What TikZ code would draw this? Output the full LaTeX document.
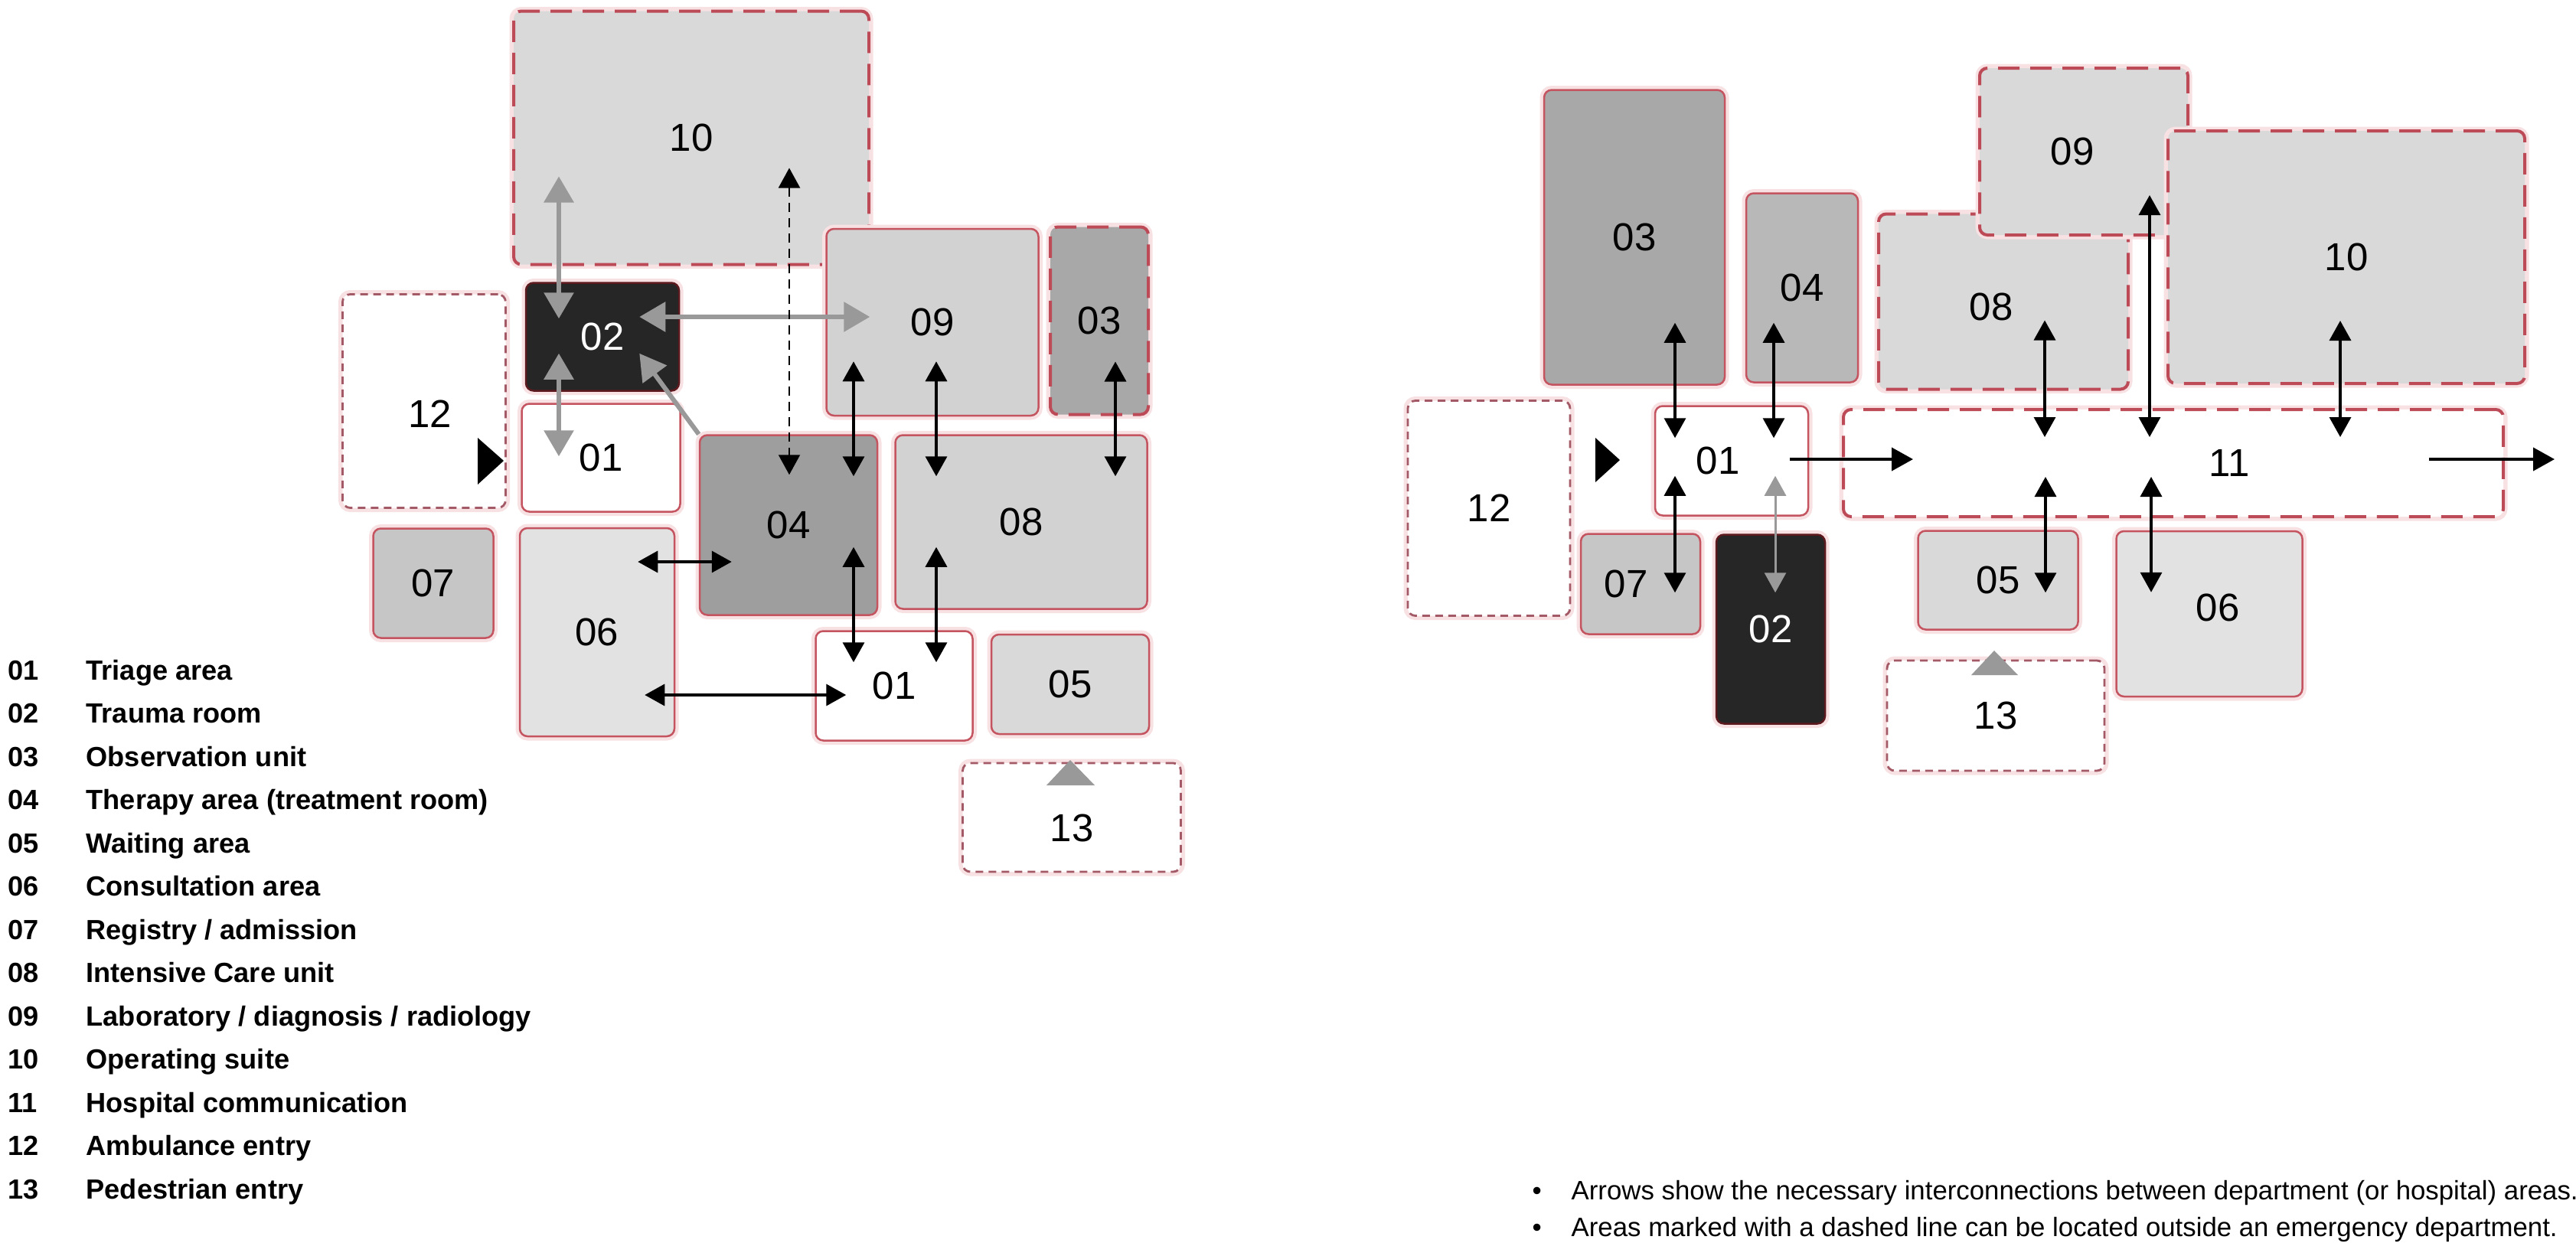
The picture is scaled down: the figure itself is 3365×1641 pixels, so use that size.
\documentclass[tikz,border=0pt]{standalone}
\usepackage{fontspec}
\setmainfont{Liberation Sans}
\usetikzlibrary{positioning,arrows.meta,calc}
\definecolor{cedge}{HTML}{C4545F}
\definecolor{cdash}{HTML}{BC4A57}
\definecolor{centry}{HTML}{A35A66}
\definecolor{cglow}{HTML}{F7E1E3}
\definecolor{cdark}{HTML}{262626}
\definecolor{cdarkedge}{HTML}{5C1A1F}
\definecolor{clight}{HTML}{D9D9D9}
\definecolor{cpale}{HTML}{D2D2D2}
\definecolor{cfaint}{HTML}{E2E2E2}
\definecolor{csoft}{HTML}{C6C6C6}
\definecolor{cmid}{HTML}{A8A8A8}
\definecolor{cmidb}{HTML}{B8B8B8}
\definecolor{cdeep}{HTML}{9E9E9E}
\definecolor{cgrey}{HTML}{999999}
\tikzset{
  tag/.style={font=\fontsize{14.5}{16}\selectfont},
  room/.style={tag,draw=cedge,line width=.25mm,rounded corners=1mm,fill=white,inner sep=0pt,
               preaction={draw=cglow,line width=1.1mm,solid}},
  zone/.style={room,draw=cdash,line width=.4mm,dash pattern=on 2.8mm off 1.4mm},
  gate/.style={room,draw=centry,line width=.28mm,dash pattern=on 1mm off .7mm},
  core/.style={room,draw=cdarkedge,fill=cdark,text=white},
  off/.style args={#1/#2/#3}{label={[tag,xshift=#1,yshift=#2]center:#3}},
  link/.style={<->,>={Triangle[length=2.6mm,width=2.8mm]},line width=.35mm,draw=black},
  glink/.style={<->,>={Triangle[length=3.4mm,width=3.8mm]},line width=.6mm,draw=cgrey},
  gone/.style={glink,->},
  gthin/.style={link,draw=cgrey,line width=.3mm},
  dlink/.style={link,line width=.2mm,dash pattern=on 1.2mm off .8mm},
  flow/.style={->,>={Triangle[length=2.8mm,width=3mm]},line width=.4mm,draw=black},
  key/.style={anchor=base west,inner sep=0pt,font=\bfseries\fontsize{10.3}{12}\selectfont},
  note/.style={anchor=base west,inner sep=0pt,font=\fontsize{9.9}{12}\selectfont}
}

\begin{document}
\begin{tikzpicture}[x=0.1mm,y=-0.1mm]
\useasboundingbox (0,0) rectangle (3365,1641);

% left layout
\node[zone,fill=clight,minimum width=46.4mm,minimum height=33.1mm] (l10) at (903,180) {10};
\node[room,fill=cpale,minimum width=27.7mm,minimum height=24.4mm] (l09) at (1218,421) {09};
\node[zone,fill=cmid,minimum width=12.8mm,minimum height=24.5mm] (l03) at (1436,419) {03};
\node[gate,minimum width=21.3mm,minimum height=27.9mm,off=.8mm/-1.7mm/12] (l12) at (554,524) {};
\node[core,minimum width=20mm,minimum height=14.1mm] (l02) at (787,440) {02};
\node[room,minimum width=20.7mm,minimum height=14.1mm] (l01a) at (785,598) {01};
\node[room,fill=cdeep,minimum width=23.2mm,minimum height=23.5mm] (l04) at (1030,686) {04};
\node[room,fill=cpale,minimum width=32.9mm,minimum height=22.7mm] (l08) at (1334,682) {08};
\node[room,fill=csoft,minimum width=15.7mm,minimum height=14.3mm] (l07) at (566,762) {07};
\node[room,fill=cfaint,minimum width=20.2mm,minimum height=27.2mm] (l06) at (780,826) {06};
\node[room,minimum width=20.5mm,minimum height=14.3mm] (l01b) at (1168,896) {01};
\node[room,fill=clight,minimum width=20.6mm,minimum height=13mm] (l05) at (1398,894) {05};
\node[gate,minimum width=28.5mm,minimum height=14.2mm,off=0mm/-1.4mm/13] (l13) at (1400,1068) {};

\fill (624,572) -- (658,602) -- (624,633) -- cycle;
\fill[cgrey] (1398,993) -- (1430,1026) -- (1367,1026) -- cycle;

\draw[glink] ($(l10.south)+(-173,-117)$) -- ($(l02.north)+(-57,48)$);
\draw[glink] ($(l02.south)+(-57,-50)$) -- ($(l01a.north)+(-55,70)$);
\draw[glink] ($(l02.east)+(-53,-26)$) -- ($(l09.west)+(58,-7)$);
\draw[gone] (l04.north west) -- ($(l02.south east)+(-53,-50)$);
\draw[dlink] ($(l10.south)+(128,-128)$) -- ($(l04.north)+(1,53)$);
\draw[link] ($(l09.south)+(-103,-72)$) -- ($(l04.north)+(85,55)$);
\draw[link] ($(l09.south)+(5,-72)$) -- ($(l08.north)+(-111,55)$);
\draw[link] ($(l03.south)+(21,-71)$) -- ($(l08.north)+(123,55)$);
\draw[link] ($(l04.south)+(85,-90)$) -- ($(l01b.north)+(-53,42)$);
\draw[link] ($(l08.south)+(-111,-82)$) -- ($(l01b.north)+(55,42)$);
\draw[link] ($(l06.east)+(-49,-92)$) -- ($(l04.west)+(43,48)$);
\draw[link] ($(l06.east)+(-40,82)$) -- ($(l01b.west)+(41,12)$);

% right layout
\node[room,fill=cmid,minimum width=23.6mm,minimum height=38.5mm] (r03) at (2135,310) {03};
\node[room,fill=cmidb,minimum width=14.6mm,minimum height=24.7mm] (r04) at (2354,376) {04};
\node[zone,fill=clight,minimum width=32.6mm,minimum height=22.9mm,off=-1.6mm/-.7mm/08] (r08) at (2617,394) {};
\node[zone,fill=clight,minimum width=27.2mm,minimum height=21.8mm,off=-1.5mm/0mm/09] (r09) at (2722,198) {};
\node[zone,fill=clight,minimum width=46.6mm,minimum height=33mm] (r10) at (3065,336) {10};
\node[gate,minimum width=21.2mm,minimum height=28.1mm] (r12) at (1945,664) {12};
\node[room,minimum width=20mm,minimum height=14.3mm,off=-1.8mm/0mm/01] (r01) at (2262,602) {};
\node[zone,minimum width=86.2mm,minimum height=14mm,off=7.3mm/0mm/11] (r11) at (2839,605) {};
\node[room,fill=csoft,minimum width=15.6mm,minimum height=13.1mm,off=-1.9mm/0mm/07] (r07) at (2143,763) {};
\node[core,minimum width=14.2mm,minimum height=24.7mm] (r02) at (2313,822) {02};
\node[room,fill=clight,minimum width=20.9mm,minimum height=12.9mm] (r05) at (2610,758) {05};
\node[room,fill=cfaint,minimum width=24.3mm,minimum height=21.6mm,off=1.1mm/.8mm/06] (r06) at (2886,802) {};
\node[gate,minimum width=28.4mm,minimum height=14.4mm] (r13) at (2607,935) {13};
\coordinate (exit) at (3337,600);

\fill (2084,572) -- (2116,601) -- (2084,630) -- cycle;
\fill[cgrey] (2605,850) -- (2636,882) -- (2575,882) -- cycle;

\draw[link] ($(r03.south)+(53,-82)$) -- ($(r01.north)+(-74,43)$);
\draw[link] ($(r04.south)+(-37,-79)$) -- ($(r01.north)+(55,43)$);
\draw[link] ($(r08.south)+(54,-92)$) -- ($(r11.north)+(-168,38)$);
\draw[link] ($(r09.south)+(86,-54)$) -- ($(r11.north)+(-31,38)$);
\draw[link] ($(r10.south)+(-8,-84)$) -- ($(r11.north)+(218,38)$);
\draw[link] ($(r01.south)+(-74,-53)$) -- ($(r07.north)+(45,78)$);
\draw[gthin] ($(r01.south)+(57,-53)$) -- ($(r02.north)+(6,77)$);
\draw[link] ($(r11.south)+(-167,-54)$) -- ($(r05.north)+(62,82)$);
\draw[link] ($(r11.south)+(-29,-54)$) -- ($(r06.north)+(-76,81)$);
\draw[flow] ($(r01.east)+(-25,-2)$) -- ($(r11.west)+(93,-5)$);
\draw[flow] ($(r11.east)+(-99,-5)$) -- (exit);

% legend
\foreach \n/\t [count=\k from 0] in {01/Triage area,02/Trauma room,03/Observation unit,
    04/Therapy area (treatment room),05/Waiting area,06/Consultation area,
    07/{Registry / admission},08/Intensive Care unit,09/{Laboratory / diagnosis / radiology},
    10/Operating suite,11/Hospital communication,12/Ambulance entry,13/Pedestrian entry}
{
  \node[key] (k\n) at (10,888+56.5*\k) {\n};
  \node[key] (d\n) at (112,888+56.5*\k) {\t};
}

\node[note] (m1) at (2001,1567) {\makebox[5.1mm][l]{\textbullet}Arrows show the necessary interconnections between department (or hospital) areas.};
\node[note] (m2) at (2001,1615) {\makebox[5.1mm][l]{\textbullet}Areas marked with a dashed line can be located outside an emergency department.};
\end{tikzpicture}
\end{document}
